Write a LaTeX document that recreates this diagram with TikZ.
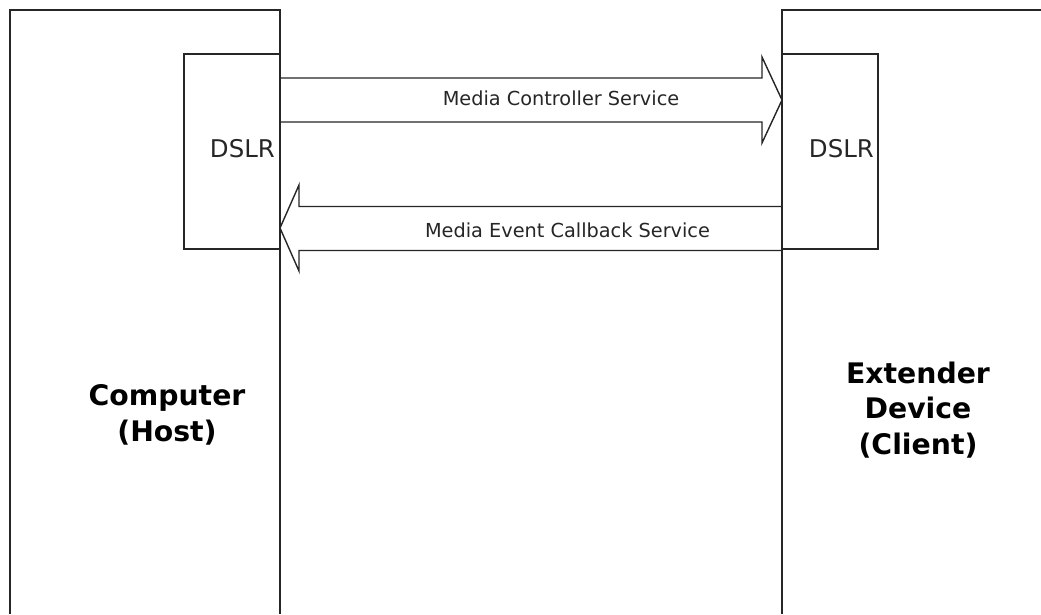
\documentclass[tikz,border=0pt]{standalone}
\usepackage{fontspec}
\setmainfont{DejaVu Sans}
\tikzset{
  px/.style={x=1pt,y=-1pt},
  outline/.style={draw=black!85,line width=1.4pt,line join=miter},
  small label/.style={inner sep=0pt,text=black!85,font=\fontsize{19.3}{22}\selectfont},
  dslr label/.style={inner sep=0pt,text=black!85,font=\fontsize{24.4}{28}\selectfont},
  host label/.style={inner sep=0pt,align=center,font=\fontsize{28.3}{35.5}\selectfont\bfseries}
}
\begin{document}
\begin{tikzpicture}[px]
\useasboundingbox (0,0) rectangle (1041,614);
\fill[white] (0,0) rectangle (1041,614);
% host and client
\draw[outline] (10,614) -- (10,10) -- (280,10) -- (280,614);
\draw[outline] (782,614) -- (782,10) -- (1041,10);
% DSLR boxes
\draw[outline] (280,54) -- (184,54) -- (184,249) -- (280,249);
\draw[outline] (782,54) -- (878,54) -- (878,249) -- (782,249);
% block arrows
\draw[outline] (280,78) -- (762,78) -- (762,57) -- (782,100) -- (762,143) -- (762,122) -- (280,122);
\draw[outline] (782,206.5) -- (299,206.5) -- (299,185) -- (280,228) -- (299,271) -- (299,250.5) -- (782,250.5);
% labels
\node[dslr label,anchor=east] (dslrL) at (275,149) {DSLR};
\node[dslr label,anchor=east] (dslrR) at (874,149) {DSLR};
\node[small label] (mcs) at (561,98) {Media Controller Service};
\node[small label] (mecs) at (567.5,230) {Media Event Callback Service};
\node[host label] (host) at (167,415) {Computer\\(Host)};
\node[host label] (client) at (918,410) {Extender\\Device\\(Client)};
\end{tikzpicture}
\end{document}
